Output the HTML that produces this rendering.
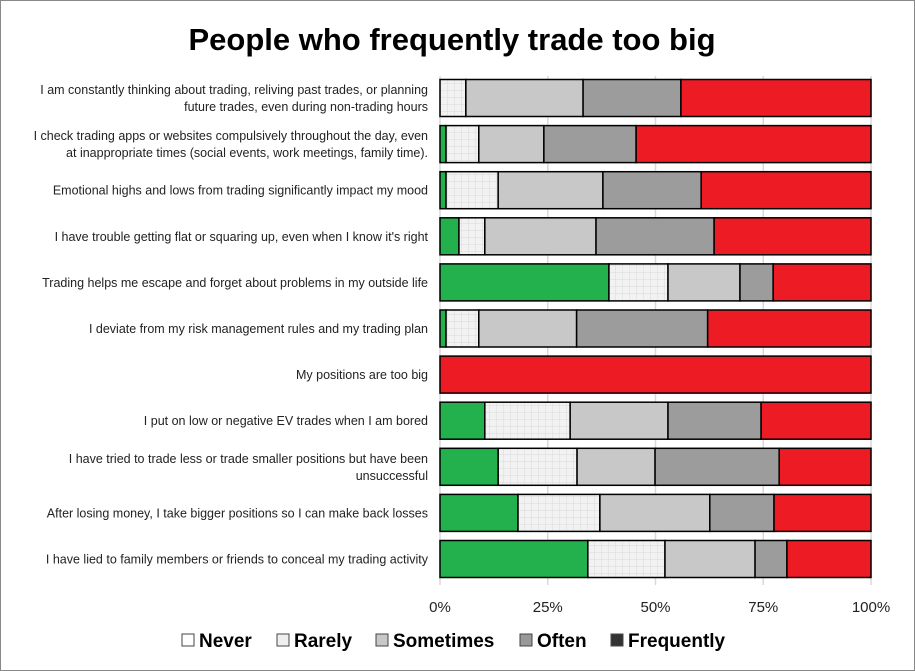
<!DOCTYPE html>
<html><head><meta charset="utf-8"><style>
body{margin:0;background:#fff;}
svg{display:block;font-family:"Liberation Sans",sans-serif;}
</style></head><body>
<svg id="c" width="915" height="671">
<defs><pattern id="hatch" width="7" height="7" patternUnits="userSpaceOnUse"><rect width="7" height="7" fill="#f2f2f2"/><path d="M7 0V7M0 7H7" stroke="#d9d9d9" stroke-width="1"/></pattern></defs>
<rect x="0.5" y="0.5" width="914" height="670" fill="#fff" stroke="#888"/>
<text x="452" y="50" text-anchor="middle" font-size="31" font-weight="bold">People who frequently trade too big</text>
<g id="grid"></g><g id="bars"></g><g id="labels"></g><g id="ticks"></g><g id="legend"></g>
</svg>
<script>
const categories=[
["I am constantly thinking about trading, reliving past trades, or planning","future trades, even during non-trading hours"],
["I check trading apps or websites compulsively throughout the day, even","at inappropriate times (social events, work meetings, family time)."],
["Emotional highs and lows from trading significantly impact my mood"],
["I have trouble getting flat or squaring up, even when I know it's right"],
["Trading helps me escape and forget about problems in my outside life"],
["I deviate from my risk management rules and my trading plan"],
["My positions are too big"],
["I put on low or negative EV trades when I am bored"],
["I have tried to trade less or trade smaller positions but have been","unsuccessful"],
["After losing money, I take bigger positions so I can make back losses"],
["I have lied to family members or friends to conceal my trading activity"]];
const never=[0,1.4,1.4,4.4,39.2,1.4,0,10.4,13.5,18.1,34.3];
const rarely=[6,7.6,12.1,6,13.7,7.6,0,19.8,18.3,19,17.9];
const sometimes=[27.2,15.1,24.3,25.8,16.7,22.7,0,22.7,18.1,25.5,20.9];
const often=[22.7,21.4,22.8,27.4,7.7,30.4,0,21.6,28.8,14.9,7.4];
const frequently=[44.1,54.5,39.4,36.4,22.7,37.9,100,25.5,21.3,22.5,19.5];
const tickLabels=["0%","25%","50%","75%","100%"];
const tickValues=[0,25,50,75,100];
const legendNames=["Never","Rarely","Sometimes","Often","Frequently"];

const NS="http://www.w3.org/2000/svg";
const X0=440,X1=871,Y0=98,STEP=46.1,BH=37;
const x=v=>X0+(X1-X0)*v/100;
const yc=i=>Y0+i*STEP;
function mk(tag,attrs,parent){const e=document.createElementNS(NS,tag);for(const k in attrs)e.setAttribute(k,attrs[k]);parent.appendChild(e);return e;}
const grid=document.getElementById('grid');
tickValues.forEach((t,i)=>{
 const l=mk('line',{x1:x(t),x2:x(t),y1:76,y2:585,stroke:'#d9d9d9','stroke-width':1.5},grid);
 
 
 const tx=mk('text',{x:x(t),y:612,'text-anchor':'middle','font-size':15,fill:'#222'},document.getElementById('ticks'));
 tx.textContent=tickLabels[i];
 
 
});
const series=[never,rarely,sometimes,often,frequently];
const fills=['#22b14c','url(#hatch)','#c8c8c8','#9c9c9c','#ed1c24'];
const bars=document.getElementById('bars');
categories.forEach((c,i)=>{
 let acc=0;
 series.forEach((s,k)=>{
  const v=s[i];
  if(v>0){
   const r=mk('rect',{x:x(acc),y:yc(i)-BH/2,width:x(acc+v)-x(acc),height:BH,fill:fills[k],stroke:'#000','stroke-width':1.5},bars);
   
   
  }
  acc+=v;
 });
 const t=mk('text',{x:428,'text-anchor':'end','font-size':12.5,fill:'#222'},document.getElementById('labels'));
 
 
 c.forEach((line,j)=>{
  const ts=mk('tspan',{x:428,y:yc(i)+4.5+(j-(c.length-1)/2)*17},t);
  ts.textContent=line;
 });
});
const lg=document.getElementById('legend');
const sw=['#fff','#efefef','#c8c8c8','#999','#333'];
const lx=[182,277,376,520,611];
legendNames.forEach((n,i)=>{
 const r=mk('rect',{x:lx[i],y:634,width:12,height:12,fill:sw[i],stroke:'#444','stroke-width':1},lg);
 
 
 const t=mk('text',{x:lx[i]+17,y:647,'font-size':19,'font-weight':'bold'},lg);
 t.textContent=n;
 
 
});
</script>
</body></html>
